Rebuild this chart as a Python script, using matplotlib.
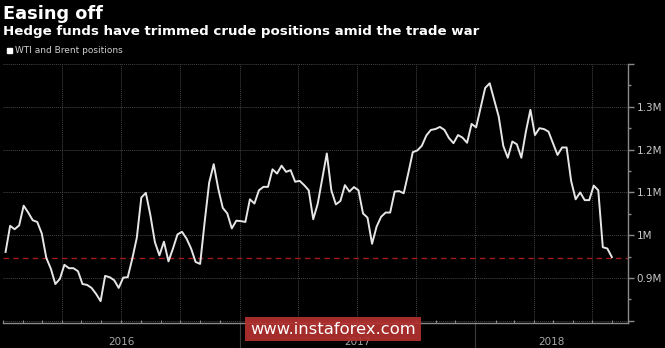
import matplotlib
matplotlib.use("Agg")
import matplotlib.pyplot as plt
import matplotlib.dates as mdates
import numpy as np
import pandas as pd

# ---- data (millions of contracts), weekly ----
start_date = "2016-01-05"
positions = [
    0.961, 1.022, 1.014, 1.023, 1.069, 1.053, 1.035, 1.031, 1.004, 0.947,
    0.922, 0.886, 0.898, 0.931, 0.923, 0.923, 0.916, 0.886, 0.884, 0.877,
    0.863, 0.846, 0.905, 0.902, 0.895, 0.877, 0.901, 0.902, 0.945, 0.994,
    1.088, 1.099, 1.047, 0.984, 0.953, 0.985, 0.939, 0.969, 1.002, 1.008,
    0.992, 0.969, 0.9375, 0.933, 1.031, 1.123, 1.166, 1.109, 1.064, 1.051,
    1.016, 1.034, 1.033, 1.031, 1.084, 1.074, 1.105, 1.113, 1.113, 1.154,
    1.144, 1.1625, 1.148, 1.152, 1.125, 1.127, 1.117, 1.105, 1.0375, 1.074,
    1.132, 1.191, 1.105, 1.072, 1.080, 1.117, 1.102, 1.1125, 1.105, 1.051,
    1.041, 0.980, 1.020, 1.043, 1.053, 1.053, 1.102, 1.103, 1.098, 1.1445,
    1.194, 1.198, 1.209, 1.233, 1.246, 1.248, 1.253, 1.246, 1.227, 1.215,
    1.234, 1.228, 1.216, 1.260, 1.252, 1.298, 1.344, 1.355, 1.316, 1.277,
    1.209, 1.181, 1.219, 1.2125, 1.181, 1.242, 1.293, 1.234, 1.250, 1.248,
    1.242, 1.215, 1.1875, 1.205, 1.205, 1.127, 1.084, 1.100, 1.082, 1.082,
    1.116, 1.105, 0.972, 0.969, 0.949,
]
dates = pd.date_range(start_date, periods=len(positions), freq="7D")
reference_level = 0.948

y_ticks = [0.8, 0.9, 1.0, 1.1, 1.2, 1.3, 1.4]
y_tick_labels = ["", "0.9M", "1M", "1.1M", "1.2M", "1.3M", ""]
year_labels = ["2016", "2017", "2018"]

title = "Easing off"
subtitle = "Hedge funds have trimmed crude positions amid the trade war"
legend_label = "WTI and Brent positions"

# ---- figure ----
fig = plt.figure(figsize=(6.65, 3.48), dpi=100, facecolor="black")
ax = fig.add_axes([3 / 665, 1 - 323 / 348, 625 / 665, (323 - 64) / 348])
ax.set_facecolor("black")

xmin = pd.Timestamp("2016-01-01")
xmax = pd.Timestamp("2018-08-25")
ax.set_xlim(xmin, xmax)
ax.set_ylim(0.795, 1.40)

# grid
for yv in y_ticks:
    ax.axhline(yv, color="#444444", lw=0.7, ls=(0, (1, 1)), zorder=1)
qstarts = pd.date_range("2016-04-01", xmax, freq="QS")
for q in qstarts:
    ax.axvline(q, color="#444444", lw=0.7, ls=(0, (1, 1)), zorder=1)

ax.axhline(reference_level, color="#a01c1c", lw=1.0, ls=(0, (4, 3)), zorder=2)
ax.plot(dates, positions, color="#e6e6e6", lw=1.4, zorder=3, solid_joinstyle="round")

# spines
for s in ["top", "left"]:
    ax.spines[s].set_visible(False)
ax.spines["bottom"].set_color("#8a8a8a")
ax.spines["right"].set_color("#8a8a8a")
ax.spines["bottom"].set_linewidth(1.0)
ax.spines["right"].set_linewidth(1.0)

# y axis on right
ax.yaxis.tick_right()
ax.set_yticks(y_ticks)
ax.set_yticklabels(y_tick_labels)
ax.set_yticks(np.arange(0.85, 1.40, 0.1), minor=True)
ax.tick_params(axis="y", which="major", colors="#8a8a8a", labelcolor="#c8c8c8",
               length=4, width=1, labelsize=7.5, pad=2, direction="out")
ax.tick_params(axis="y", which="minor", colors="#8a8a8a", length=2, width=1, direction="out")

# x axis
year_starts = [pd.Timestamp("2017-01-01"), pd.Timestamp("2018-01-01")]
ax.set_xticks(year_starts)
ax.set_xticklabels([])
ax.xaxis.set_minor_locator(mdates.MonthLocator())
ax.tick_params(axis="x", which="major", colors="#3c3c3c", length=22, width=0.8,
               direction="out")
ax.tick_params(axis="x", which="minor", colors="#8a8a8a", length=2, width=0.8,
               direction="in")

label_pos = [
    xmin + (pd.Timestamp("2017-01-01") - xmin) / 2,
    pd.Timestamp("2017-01-01") + (pd.Timestamp("2018-01-01") - pd.Timestamp("2017-01-01")) / 2,
    pd.Timestamp("2018-01-01") + (xmax - pd.Timestamp("2018-01-01")) / 2,
]
for lp, lbl in zip(label_pos, year_labels):
    ax.text(lp, -0.072, lbl, transform=ax.get_xaxis_transform(), ha="center",
            va="center", color="#a8a8a8", fontsize=7.5)

# titles
fig.text(3 / 665, 1 - 14 / 348, title, color="white", fontsize=12.8,
         fontweight="bold", va="center", ha="left")
fig.text(3 / 665, 1 - 31 / 348, subtitle, color="white", fontsize=9.65,
         fontweight="bold", va="center", ha="left")
# legend
fig.patches.append(plt.Rectangle((7 / 665, 1 - 53 / 348), 5 / 665, 5 / 348,
                                 transform=fig.transFigure, color="white"))
fig.text(15 / 665, 1 - 50.5 / 348, legend_label, color="#d0d0d0", fontsize=6.5,
         va="center", ha="left")

# watermark
fig.text(333 / 665, 1 - 329 / 348, "www.instaforex.com", color="white", fontsize=11.8,
         ha="center", va="center",
         bbox=dict(boxstyle="square,pad=0.3", fc="#b3302f", ec="none", alpha=0.92))

fig.savefig("out.png", dpi=100, facecolor="black")
